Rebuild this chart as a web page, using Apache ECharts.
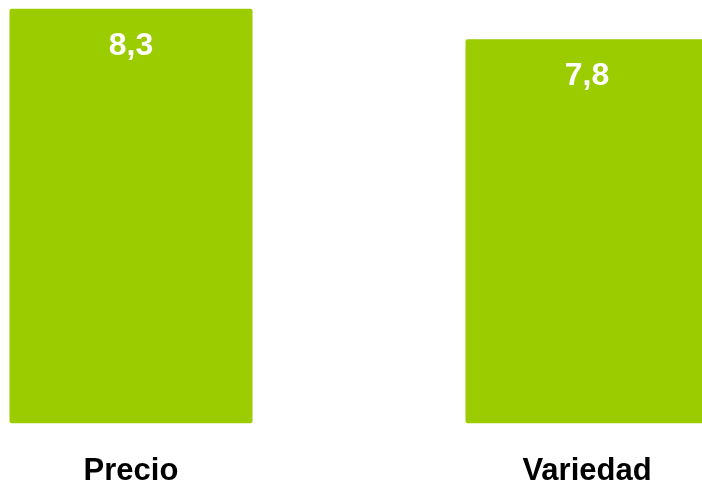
<!DOCTYPE html>
<html>
<head>
<meta charset="utf-8">
<script src="https://cdn.jsdelivr.net/npm/echarts@6/dist/echarts.min.js"></script>
<style>
html,body{margin:0;padding:0;background:#fff;}
#chart{width:702px;height:486px;}
</style>
</head>
<body>
<div id="chart"></div>
<script>
const categories = ['Precio', 'Variedad'];
const values = [8.3, 7.8];

const chart = echarts.init(document.getElementById('chart'), null, {renderer: 'canvas'});
chart.setOption({
  animation: false,
  grid: {left: -97, right: -113, top: 8.7, bottom: 62.7, containLabel: false, outerBoundsMode: 'none'},
  xAxis: {
    type: 'category',
    data: categories,
    axisLine: {show: false},
    axisTick: {show: false},
    axisLabel: {
      margin: 33,
      fontSize: 31,
      lineHeight: 31,
      fontWeight: 'bold',
      color: '#000',
      fontFamily: 'Liberation Sans, Arial, sans-serif'
    }
  },
  yAxis: {
    type: 'value',
    min: 1.5,
    max: 8.3,
    show: false,
    splitLine: {show: false}
  },
  series: [{
    type: 'bar',
    data: values,
    barWidth: 243,
    itemStyle: {color: '#9BCC00', borderRadius: 2},
    label: {
      show: true,
      position: 'insideTop',
      distance: 21,
      fontSize: 32,
      lineHeight: 32,
      fontWeight: 'bold',
      color: '#fff',
      fontFamily: 'Liberation Sans, Arial, sans-serif',
      formatter: p => String(p.value).replace('.', ',')
    }
  }]
});
</script>
</body>
</html>
